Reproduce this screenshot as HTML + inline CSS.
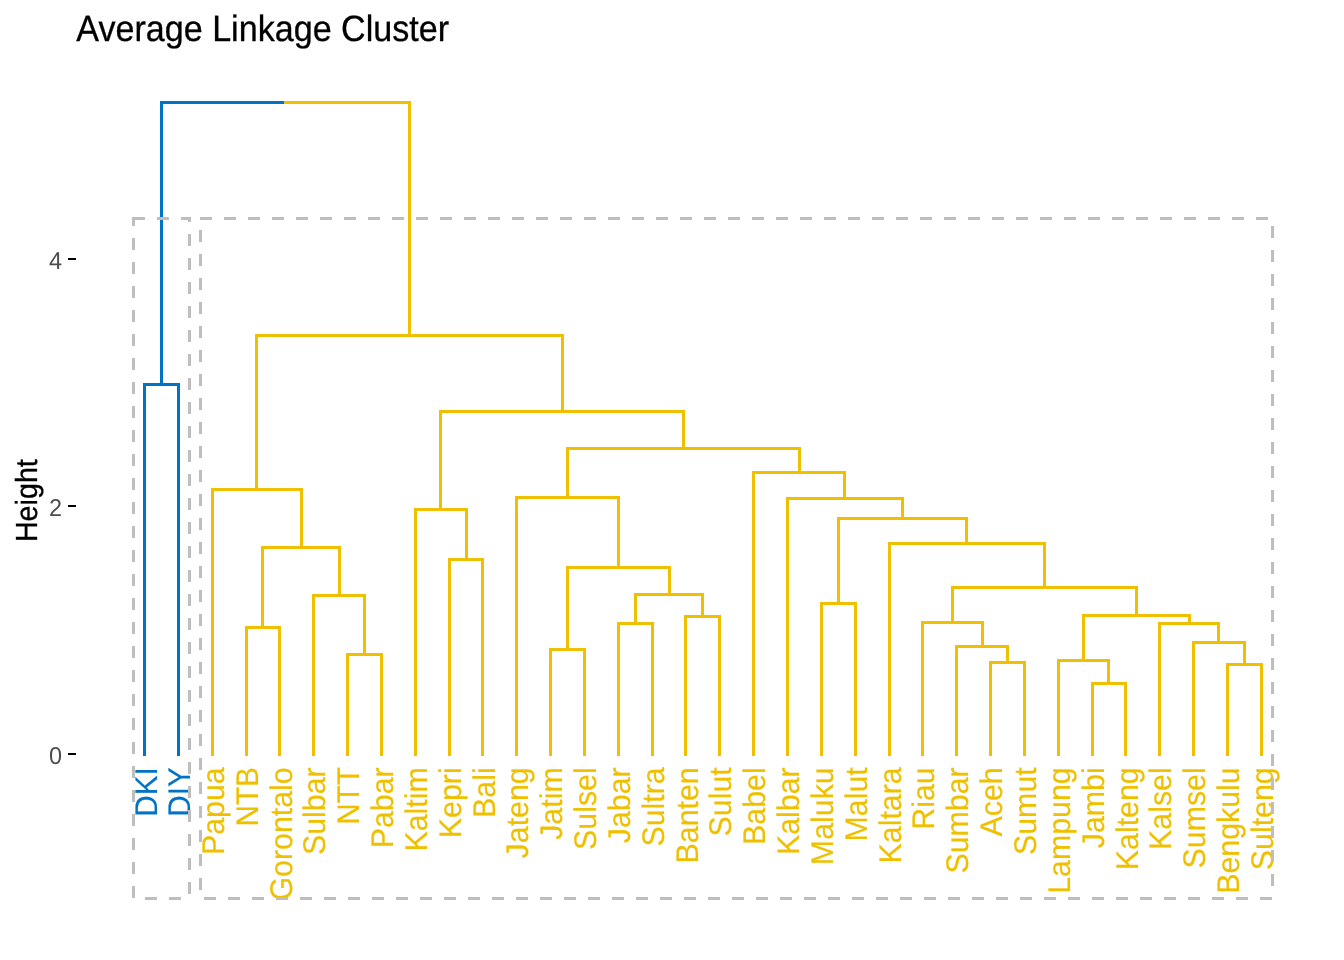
<!DOCTYPE html>
<html lang="en">
<head>
<meta charset="utf-8">
<title>Average Linkage Cluster</title>
<style>
html,body{margin:0;padding:0;background:#fff;}
body{width:1344px;height:960px;overflow:hidden;font-family:"Liberation Sans",Arial,sans-serif;}
svg{display:block;}
text{font-family:"Liberation Sans",Arial,sans-serif;text-rendering:geometricPrecision;}
.title{font-size:35.2px;fill:#000;stroke:#000;stroke-width:0.3px;}
.ytitle{font-size:29.33px;fill:#000;stroke:#000;stroke-width:0.3px;}
.tick{font-size:23.47px;fill:#4D4D4D;}
.leaf text{font-size:30.35px;stroke-width:0.15px;}
</style>
</head>
<body>
<svg width="1344" height="960" viewBox="0 0 1344 960">
<rect x="0" y="0" width="1344" height="960" fill="#ffffff"/>
<text class="title" transform="translate(76.3 40.6) scale(0.969 1.04)">Average Linkage Cluster</text>
<text class="ytitle" transform="translate(37.2 500.65) rotate(-90) scale(0.978 1.04)" text-anchor="middle">Height</text>
<g class="ticks">
<text class="tick" transform="translate(62.1 763.7) scale(1 1.04)" text-anchor="end">0</text>
<text class="tick" transform="translate(62.1 516.2) scale(1 1.04)" text-anchor="end">2</text>
<text class="tick" transform="translate(62.1 268.7) scale(1 1.04)" text-anchor="end">4</text>
<path d="M68 754H76M68 506H76M68 259H76" stroke="#000" stroke-width="2" fill="none" shape-rendering="crispEdges"/>
</g>
<g fill="none" stroke-width="3" stroke-linecap="square" shape-rendering="crispEdges">
<path stroke="#0073C2" d="M144.5 384.5L178.5 384.5M144.5 384.5L144.5 754M178.5 384.5L178.5 754M161.5 102.5L161.5 384.5M161.5 102.5L285.5 102.5"/>
<path stroke="#EFC000" d="M246.5 627.5L279.5 627.5M246.5 627.5L246.5 754M279.5 627.5L279.5 754M347.5 654.5L381.5 654.5M347.5 654.5L347.5 754M381.5 654.5L381.5 754M313.5 595.5L364.5 595.5M313.5 595.5L313.5 754M364.5 595.5L364.5 654.5M262.5 547.5L339.5 547.5M262.5 547.5L262.5 627.5M339.5 547.5L339.5 595.5M212.5 489.5L301.5 489.5M212.5 489.5L212.5 754M301.5 489.5L301.5 547.5M449.5 559.5L482.5 559.5M449.5 559.5L449.5 754M482.5 559.5L482.5 754M415.5 509.5L466.5 509.5M415.5 509.5L415.5 754M466.5 509.5L466.5 559.5M550.5 649.5L584.5 649.5M550.5 649.5L550.5 754M584.5 649.5L584.5 754M618.5 623.5L652.5 623.5M618.5 623.5L618.5 754M652.5 623.5L652.5 754M685.5 616.5L719.5 616.5M685.5 616.5L685.5 754M719.5 616.5L719.5 754M635.5 594.5L702.5 594.5M635.5 594.5L635.5 623.5M702.5 594.5L702.5 616.5M567.5 567.5L669.5 567.5M567.5 567.5L567.5 649.5M669.5 567.5L669.5 594.5M516.5 497.5L618.5 497.5M516.5 497.5L516.5 754M618.5 497.5L618.5 567.5M821.5 603.5L855.5 603.5M821.5 603.5L821.5 754M855.5 603.5L855.5 754M990.5 662.5L1024.5 662.5M990.5 662.5L990.5 754M1024.5 662.5L1024.5 754M956.5 646.5L1007.5 646.5M956.5 646.5L956.5 754M1007.5 646.5L1007.5 662.5M922.5 622.5L982.5 622.5M922.5 622.5L922.5 754M982.5 622.5L982.5 646.5M1092.5 683.5L1125.5 683.5M1092.5 683.5L1092.5 754M1125.5 683.5L1125.5 754M1058.5 660.5L1108.5 660.5M1058.5 660.5L1058.5 754M1108.5 660.5L1108.5 683.5M1227.5 664.5L1261.5 664.5M1227.5 664.5L1227.5 754M1261.5 664.5L1261.5 754M1193.5 642.5L1244.5 642.5M1193.5 642.5L1193.5 754M1244.5 642.5L1244.5 664.5M1159.5 623.5L1218.5 623.5M1159.5 623.5L1159.5 754M1218.5 623.5L1218.5 642.5M1083.5 615.5L1189.5 615.5M1083.5 615.5L1083.5 660.5M1189.5 615.5L1189.5 623.5M952.5 587.5L1136.5 587.5M952.5 587.5L952.5 622.5M1136.5 587.5L1136.5 615.5M889.5 543.5L1044.5 543.5M889.5 543.5L889.5 754M1044.5 543.5L1044.5 587.5M838.5 518.5L966.5 518.5M838.5 518.5L838.5 603.5M966.5 518.5L966.5 543.5M787.5 498.5L902.5 498.5M787.5 498.5L787.5 754M902.5 498.5L902.5 518.5M753.5 472.5L844.5 472.5M753.5 472.5L753.5 754M844.5 472.5L844.5 498.5M567.5 448.5L799.5 448.5M567.5 448.5L567.5 497.5M799.5 448.5L799.5 472.5M440.5 411.5L683.5 411.5M440.5 411.5L440.5 509.5M683.5 411.5L683.5 448.5M256.5 335.5L562.5 335.5M256.5 335.5L256.5 489.5M562.5 335.5L562.5 411.5M285.5 102.5L409.5 102.5M409.5 102.5L409.5 335.5"/>
</g>
<g class="leaf">
<text transform="translate(157.15 767.3) rotate(-90) scale(0.975 1.03)" text-anchor="end" fill="#0073C2" stroke="#0073C2">DKI</text>
<text transform="translate(189.99 767.3) rotate(-90) scale(0.975 1.03)" text-anchor="end" fill="#0073C2" stroke="#0073C2">DIY</text>
<text transform="translate(223.83 767.3) rotate(-90) scale(1.0 1.03)" text-anchor="end" fill="#EFC000" stroke="#EFC000">Papua</text>
<text transform="translate(257.67 767.3) rotate(-90) scale(0.975 1.03)" text-anchor="end" fill="#EFC000" stroke="#EFC000">NTB</text>
<text transform="translate(291.51 767.3) rotate(-90) scale(1.0 1.03)" text-anchor="end" fill="#EFC000" stroke="#EFC000">Gorontalo</text>
<text transform="translate(325.35 767.3) rotate(-90) scale(1.0 1.03)" text-anchor="end" fill="#EFC000" stroke="#EFC000">Sulbar</text>
<text transform="translate(359.19 767.3) rotate(-90) scale(0.975 1.03)" text-anchor="end" fill="#EFC000" stroke="#EFC000">NTT</text>
<text transform="translate(393.03 767.3) rotate(-90) scale(1.0 1.03)" text-anchor="end" fill="#EFC000" stroke="#EFC000">Pabar</text>
<text transform="translate(426.87 767.3) rotate(-90) scale(1.0 1.03)" text-anchor="end" fill="#EFC000" stroke="#EFC000">Kaltim</text>
<text transform="translate(460.71 767.3) rotate(-90) scale(1.0 1.03)" text-anchor="end" fill="#EFC000" stroke="#EFC000">Kepri</text>
<text transform="translate(494.55 767.3) rotate(-90) scale(1.0 1.03)" text-anchor="end" fill="#EFC000" stroke="#EFC000">Bali</text>
<text transform="translate(528.39 767.3) rotate(-90) scale(1.0 1.03)" text-anchor="end" fill="#EFC000" stroke="#EFC000">Jateng</text>
<text transform="translate(562.23 767.3) rotate(-90) scale(1.0 1.03)" text-anchor="end" fill="#EFC000" stroke="#EFC000">Jatim</text>
<text transform="translate(596.07 767.3) rotate(-90) scale(1.0 1.03)" text-anchor="end" fill="#EFC000" stroke="#EFC000">Sulsel</text>
<text transform="translate(629.91 767.3) rotate(-90) scale(1.0 1.03)" text-anchor="end" fill="#EFC000" stroke="#EFC000">Jabar</text>
<text transform="translate(663.75 767.3) rotate(-90) scale(1.0 1.03)" text-anchor="end" fill="#EFC000" stroke="#EFC000">Sultra</text>
<text transform="translate(697.59 767.3) rotate(-90) scale(1.0 1.03)" text-anchor="end" fill="#EFC000" stroke="#EFC000">Banten</text>
<text transform="translate(731.43 767.3) rotate(-90) scale(1.0 1.03)" text-anchor="end" fill="#EFC000" stroke="#EFC000">Sulut</text>
<text transform="translate(765.27 767.3) rotate(-90) scale(1.0 1.03)" text-anchor="end" fill="#EFC000" stroke="#EFC000">Babel</text>
<text transform="translate(799.11 767.3) rotate(-90) scale(1.0 1.03)" text-anchor="end" fill="#EFC000" stroke="#EFC000">Kalbar</text>
<text transform="translate(832.95 767.3) rotate(-90) scale(1.0 1.03)" text-anchor="end" fill="#EFC000" stroke="#EFC000">Maluku</text>
<text transform="translate(866.79 767.3) rotate(-90) scale(1.0 1.03)" text-anchor="end" fill="#EFC000" stroke="#EFC000">Malut</text>
<text transform="translate(900.63 767.3) rotate(-90) scale(1.0 1.03)" text-anchor="end" fill="#EFC000" stroke="#EFC000">Kaltara</text>
<text transform="translate(934.47 767.3) rotate(-90) scale(1.0 1.03)" text-anchor="end" fill="#EFC000" stroke="#EFC000">Riau</text>
<text transform="translate(968.31 767.3) rotate(-90) scale(1.0 1.03)" text-anchor="end" fill="#EFC000" stroke="#EFC000">Sumbar</text>
<text transform="translate(1002.15 767.3) rotate(-90) scale(1.0 1.03)" text-anchor="end" fill="#EFC000" stroke="#EFC000">Aceh</text>
<text transform="translate(1035.99 767.3) rotate(-90) scale(1.0 1.03)" text-anchor="end" fill="#EFC000" stroke="#EFC000">Sumut</text>
<text transform="translate(1069.83 767.3) rotate(-90) scale(1.0 1.03)" text-anchor="end" fill="#EFC000" stroke="#EFC000">Lampung</text>
<text transform="translate(1103.67 767.3) rotate(-90) scale(1.0 1.03)" text-anchor="end" fill="#EFC000" stroke="#EFC000">Jambi</text>
<text transform="translate(1137.51 767.3) rotate(-90) scale(1.0 1.03)" text-anchor="end" fill="#EFC000" stroke="#EFC000">Kalteng</text>
<text transform="translate(1171.35 767.3) rotate(-90) scale(1.0 1.03)" text-anchor="end" fill="#EFC000" stroke="#EFC000">Kalsel</text>
<text transform="translate(1205.19 767.3) rotate(-90) scale(1.0 1.03)" text-anchor="end" fill="#EFC000" stroke="#EFC000">Sumsel</text>
<text transform="translate(1239.03 767.3) rotate(-90) scale(1.0 1.03)" text-anchor="end" fill="#EFC000" stroke="#EFC000">Bengkulu</text>
<text transform="translate(1272.87 767.3) rotate(-90) scale(1.0 1.03)" text-anchor="end" fill="#EFC000" stroke="#EFC000">Sulteng</text>
</g>
<g fill="none" stroke="#BEBEBE" stroke-width="3" stroke-dasharray="12 12" shape-rendering="crispEdges">
<path d="M133.5 898V217"/>
<path d="M133 218.5H191"/>
<path d="M189.5 217V898" stroke-dashoffset="7"/>
<path d="M145 898.5H181"/>
<path d="M200 218.5H1272"/>
<path d="M1272.5 226V890"/>
<path d="M204 898.5H1272"/>
<path d="M200.5 230V890"/>
</g>
</svg>
</body>
</html>
